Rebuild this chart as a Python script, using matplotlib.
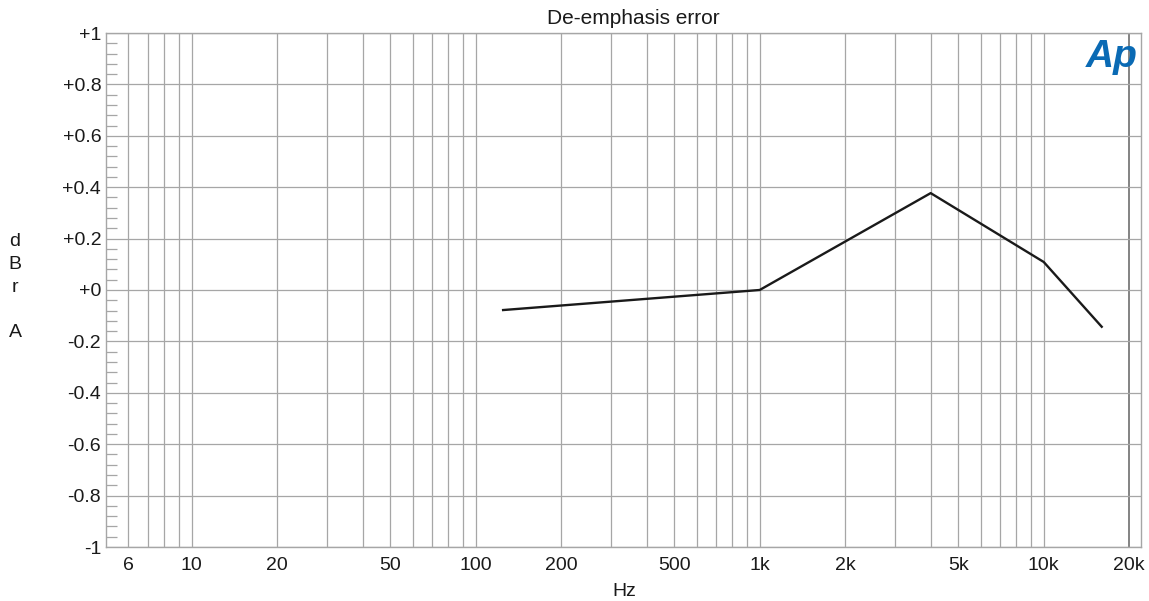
#!/usr/bin/env python
# -*- coding: utf-8 -*-

"""
De-emphasis error plot (Audio Precision style)
"""

import numpy as np
from matplotlib import pyplot as plt
from matplotlib.ticker import FixedLocator, NullFormatter, MultipleLocator

plt.rcParams['font.family'] = ['Liberation Sans', 'DejaVu Sans']

# data
freqs = [125, 1000, 4000, 10000, 16000]
error_db = [-0.078, 0.0, 0.377, 0.109, -0.143]

xticks = [6, 10, 20, 50, 100, 200, 500, 1000, 2000, 5000, 10000, 20000]
xticklabels = ['6', '10', '20', '50', '100', '200', '500', '1k', '2k', '5k', '10k', '20k']
yticks = [1, 0.8, 0.6, 0.4, 0.2, 0, -0.2, -0.4, -0.6, -0.8, -1]
yticklabels = ['+1', '+0.8', '+0.6', '+0.4', '+0.2', '+0', '-0.2', '-0.4', '-0.6', '-0.8', '-1']

grid_color = '#a6a6a6'
fs = 14


def get_plot():
    fig = plt.figure(figsize=(11.49, 6.01), dpi=100)
    ax = fig.add_axes((106/1149, 1-547/601, (1141-106)/1149, (547-33)/601))
    ax.set_xscale('log')
    ax.set_xlim(5, 22000)
    ax.set_ylim(-1, 1)

    # vertical grid at every 1..9 per decade
    vlines = []
    for dec in [1, 10, 100, 1000, 10000]:
        for m in range(1, 10):
            f = m * dec
            if 5 < f < 22000:
                vlines.append(f)
    for f in vlines:
        c = '#7a7a7a' if f == 20000 else grid_color
        lw = 1.3 if f == 20000 else 0.9
        ax.axvline(f, color=c, lw=lw, zorder=1)
    for y in yticks:
        ax.axhline(y, color=grid_color, lw=0.9, zorder=1)

    ax.plot(freqs, error_db, color='#1a1a1a', lw=1.7, zorder=3)

    ax.xaxis.set_major_locator(FixedLocator(xticks))
    ax.set_xticklabels(xticklabels)
    ax.xaxis.set_minor_formatter(NullFormatter())
    ax.xaxis.set_minor_locator(FixedLocator([]))
    ax.set_yticks(yticks)
    ax.set_yticklabels(yticklabels)
    ax.yaxis.set_minor_locator(MultipleLocator(0.04))
    ax.tick_params(axis='x', which='both', length=0, labelsize=fs, pad=7, colors='#1a1a1a')
    ax.tick_params(axis='y', which='major', length=0, labelsize=fs, pad=3.5, colors='#1a1a1a')
    ax.tick_params(axis='y', which='minor', direction='in', length=8, color=grid_color, width=0.9)
    for s in ax.spines.values():
        s.set_color(grid_color)
        s.set_linewidth(1.0)

    fig.text(633/1149, 1-19/601, 'De-emphasis error', ha='center', va='center',
             fontsize=15, color='#1a1a1a')
    fig.text(624/1149, 1-592/601, 'Hz', ha='center', va='center', fontsize=fs, color='#1a1a1a')
    fig.text(15/1149, 1-287/601, 'd\nB\nr\n\nA', ha='center', va='center',
             fontsize=fs, linespacing=1.46, color='#1a1a1a')
    fig.text(1112/1149, 1-57/601, 'Ap', ha='center', va='center', fontsize=28,
             fontweight='bold', fontstyle='italic', color='#0a6ab4')

    fig.savefig('out.png', dpi=100)


if __name__ == '__main__':
    get_plot()
